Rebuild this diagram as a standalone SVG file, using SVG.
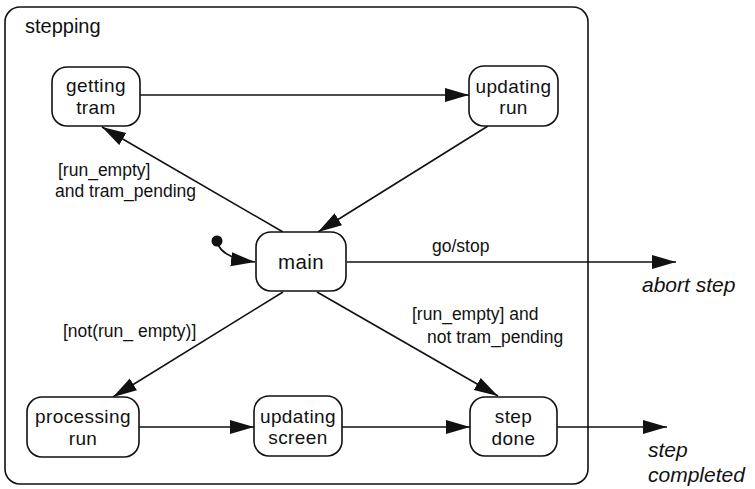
<svg xmlns="http://www.w3.org/2000/svg" width="755" height="489" viewBox="0 0 755 489">
<style>
.box{fill:#fff;stroke:#111;stroke-width:1.6}
.nt{font-family:"Liberation Sans",Arial,sans-serif;font-size:19px;letter-spacing:0.4px;fill:#111;text-anchor:middle}
.lb{font-family:"Liberation Sans",Arial,sans-serif;font-size:17.5px;fill:#111}
.it{font-family:"Liberation Sans",Arial,sans-serif;font-size:21px;font-style:italic;fill:#111}
.c{fill:none;stroke:#111;stroke-width:1.6}
</style>
<defs>
<marker id="ah" markerUnits="userSpaceOnUse" markerWidth="26" markerHeight="16" refX="24" refY="7" orient="auto">
<path d="M0,0 L24,7 L0,14 z" fill="#111"/>
</marker>
</defs>
<g id="stepping">
<rect x="5" y="7" width="583" height="477" rx="15" class="box" fill="none"/>
<text x="25" y="33" class="lb" style="font-size:20px">stepping</text>
</g>
<g id="connectors">
<path class="c" d="M140,95 L469,95" marker-end="url(#ah)"/>
<path class="c" d="M488,126 L318,232" marker-end="url(#ah)"/>
<path class="c" d="M283,232 L102,127" marker-end="url(#ah)"/>
<circle cx="217" cy="241" r="5.5" fill="#111"/>
<path class="c" d="M217,241 Q220,258 255,262" marker-end="url(#ah)"/>
<path class="c" d="M347,262 L676,262" marker-end="url(#ah)"/>
<path class="c" d="M283,292 L113,397" marker-end="url(#ah)"/>
<path class="c" d="M317,292 L498,396" marker-end="url(#ah)"/>
<path class="c" d="M139,427 L254,427" marker-end="url(#ah)"/>
<path class="c" d="M342,427 L470,427" marker-end="url(#ah)"/>
<path class="c" d="M557,427 L667,427" marker-end="url(#ah)"/>
<text x="58" y="176" class="lb">[run_empty]</text>
<text x="55" y="197" class="lb">and tram_pending</text>
<text x="432" y="252" class="lb">go/stop</text>
<text x="642" y="292" class="it">abort step</text>
<text x="412" y="320" class="lb">[run_empty] and</text>
<text x="427" y="343" class="lb">not tram_pending</text>
<text x="63" y="337" class="lb">[not(run_ empty)]</text>
<text x="648" y="457" class="it">step</text>
<text x="648" y="482" class="it">completed</text>
</g>
<g id="getting-tram">
<rect x="52" y="67" width="88" height="59" rx="15" class="box"/>
<text x="96" y="92" class="nt">getting</text>
<text x="96" y="113.5" class="nt">tram</text>
</g>
<g id="updating-run">
<rect x="469" y="66" width="89" height="60" rx="15" class="box"/>
<text x="513.5" y="92.5" class="nt">updating</text>
<text x="513.5" y="114" class="nt">run</text>
</g>
<g id="main">
<rect x="256" y="232" width="90" height="59" rx="15" class="box"/>
<text x="301" y="269" class="nt" style="font-size:20.5px">main</text>
</g>
<g id="processing-run">
<rect x="27" y="397" width="112" height="60" rx="15" class="box"/>
<text x="83" y="423" class="nt">processing</text>
<text x="83" y="444.5" class="nt">run</text>
</g>
<g id="updating-screen">
<rect x="254" y="396" width="88" height="60" rx="15" class="box"/>
<text x="298" y="422.5" class="nt">updating</text>
<text x="298" y="444" class="nt">screen</text>
</g>
<g id="step-done">
<rect x="470" y="397" width="87" height="59" rx="15" class="box"/>
<text x="513.5" y="423" class="nt">step</text>
<text x="513.5" y="444.5" class="nt">done</text>
</g>
</svg>
